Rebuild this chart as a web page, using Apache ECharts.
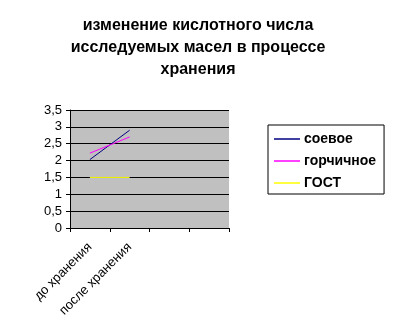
<!DOCTYPE html>
<html><head><meta charset="utf-8">
<script src="https://cdn.jsdelivr.net/npm/echarts@6/dist/echarts.min.js"></script>
<style>html,body{margin:0;padding:0;background:#fff}#c{width:396px;height:336px}</style>
</head><body><div id="c"></div>
<script>
const categories = ['до хранения', 'после хранения', '', ''];
const soy = [2.03, 2.9];
const mustard = [2.22, 2.7];
const gost = [1.5, 1.5];
const seriesNames = ['соевое', 'горчичное', 'ГОСТ'];

const chart = echarts.init(document.getElementById('c'), null, {renderer: 'canvas'});
const font = '"Liberation Sans", Arial, sans-serif';
chart.setOption({
  animation: false,
  backgroundColor: '#fff',
  title: {
    text: 'изменение кислотного числа\nисследуемых масел в процессе\nхранения',
    left: 'center', top: 10,
    textStyle: {fontFamily: font, fontSize: 16, fontWeight: 'bold', color: '#000', lineHeight: 22}
  },
  legend: {
    orient: 'vertical', left: 268, top: 125, width: 117,
    borderColor: '#000', borderWidth: 1, padding: [7, 8, 4, 6],
    itemGap: 8, itemWidth: 26, itemHeight: 1.5, icon: 'rect',
    textStyle: {fontFamily: font, fontSize: 14, fontWeight: 'bold', color: '#000', padding: [0, 0, 0, -1]},
    data: seriesNames
  },
  grid: {left: 70, right: 167, top: 110, bottom: 108, backgroundColor: '#c0c0c0', show: true, borderWidth: 0},
  xAxis: {
    type: 'category', data: categories, boundaryGap: true,
    axisLine: {lineStyle: {color: '#000', width: 1}},
    axisTick: {show: true, length: 4, lineStyle: {color: '#000'}, interval: 0},
    axisLabel: {rotate: 45, interval: 0, margin: 17, fontFamily: font, fontSize: 13, color: '#000'}
  },
  yAxis: {
    type: 'value', min: 0, max: 3.5, interval: 0.5,
    axisLine: {show: true, lineStyle: {color: '#000'}},
    axisTick: {show: true, length: 4, lineStyle: {color: '#000'}},
    axisLabel: {fontFamily: font, fontSize: 13, color: '#000', margin: 8,
      formatter: v => String(v).replace('.', ',')},
    splitLine: {show: true, lineStyle: {color: '#000', width: 1}}
  },
  series: [
    {name: seriesNames[0], type: 'line', data: soy, symbol: 'none', lineStyle: {color: '#000080', width: 1}, itemStyle: {color: '#000080'}},
    {name: seriesNames[1], type: 'line', data: mustard, symbol: 'none', lineStyle: {color: '#ff00ff', width: 1}, itemStyle: {color: '#ff00ff'}},
    {name: seriesNames[2], type: 'line', data: gost, symbol: 'none', lineStyle: {color: '#ffff00', width: 1}, itemStyle: {color: '#ffff00'}}
  ]
});
</script></body></html>
